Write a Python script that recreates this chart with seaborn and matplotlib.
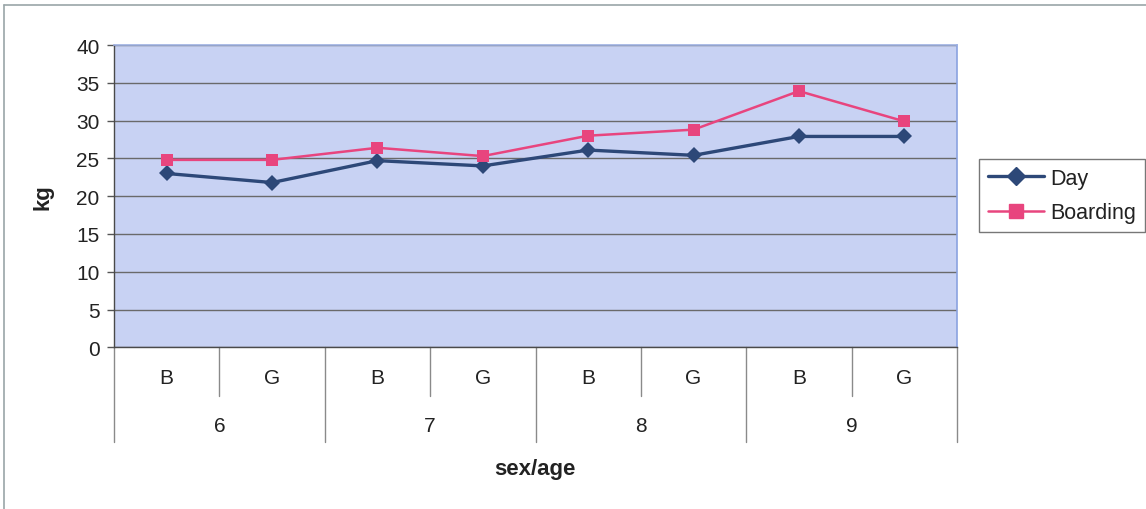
import matplotlib
matplotlib.use("Agg")
import matplotlib.pyplot as plt
import matplotlib.transforms as mtransforms
from matplotlib.lines import Line2D
import seaborn as sns
import pandas as pd

# Mean body weight (kg) by age and sex, day vs boarding pupils
ages = ["6", "7", "8", "9"]
sexes = ["B", "G"]
day_kg = [23.0, 21.8, 24.7, 24.0, 26.1, 25.4, 27.9, 27.9]
boarding_kg = [24.8, 24.8, 26.4, 25.3, 28.0, 28.8, 33.9, 29.9]
series_names = ["Day", "Boarding"]

groups = [f"{a}-{s}" for a in ages for s in sexes]
df = pd.DataFrame({
    "group": groups * 2,
    "kg": day_kg + boarding_kg,
    "school": [series_names[0]] * len(groups) + [series_names[1]] * len(groups),
})

sns.set_theme(style="white")
plt.rcParams["font.family"] = ["Liberation Sans", "DejaVu Sans"]

day_color = "#2D4878"
boarding_color = "#E8457E"
text_color = "#222222"

fig = plt.figure(figsize=(11.46, 5.10), dpi=100)
fig.patch.set_facecolor("white")
ax = fig.add_axes([114 / 1146, 161.7 / 510, (957 - 114) / 1146, (348.3 - 46) / 510])
ax.set_facecolor("#C8D2F3")

sns.lineplot(
    data=df, x="group", y="kg", hue="school", style="school",
    palette={"Day": day_color, "Boarding": boarding_color},
    markers={"Day": "D", "Boarding": "s"}, dashes=False, sort=False,
    markersize=9, markeredgewidth=0, linewidth=1.8, ax=ax, legend=False,
)
# heavier line and diamonds for the Day series
for ln in ax.lines:
    if ln.get_marker() == "D":
        ln.set_markersize(8.5)
        ln.set_linewidth(2.4)

ax.set_xlim(-0.5, len(groups) - 0.5)
ax.set_ylim(0, 40)
ax.set_yticks(range(0, 41, 5))
ax.yaxis.grid(True, color="#6a6a6a", linewidth=1.0)
ax.set_axisbelow(True)
ax.tick_params(axis="y", which="both", left=True, length=5, width=1, color="#555555",
               pad=5.5, labelsize=15, labelcolor=text_color)
ax.set_xticks([])
ax.set_xlabel("")
ax.set_ylabel("")

for side in ["left", "bottom"]:
    ax.spines[side].set_color("#4a4a4a")
    ax.spines[side].set_linewidth(1.0)
ax.spines["top"].set_color("#9DB0E2")
ax.spines["right"].set_color("#8AA2E0")
ax.spines["top"].set_linewidth(1.2)
ax.spines["right"].set_linewidth(1.2)

# two-level category axis below the plot
trans = mtransforms.blended_transform_factory(ax.transData, fig.transFigure)
def fy(px):
    return 1 - px / 510

sep_color = "#8a8a8a"
n_sex = len(sexes)
for i in range(len(groups) + 1):
    x = i - 0.5
    bottom = 443 if i % n_sex == 0 else 397
    ax.add_line(Line2D([x, x], [fy(348.3), fy(bottom)], transform=trans,
                       color=sep_color, linewidth=1.0, clip_on=False))

for i, g in enumerate(groups):
    ax.text(i, fy(379), g.split("-")[1], transform=trans, ha="center", va="center",
            fontsize=15, color=text_color)
for j, a in enumerate(ages):
    ax.text(j * n_sex + (n_sex - 1) / 2, fy(427), a, transform=trans, ha="center",
            va="center", fontsize=15, color=text_color)

fig.text(535 / 1146, fy(470), "sex/age", ha="center", va="center", fontsize=16,
         fontweight="bold", color=text_color)
fig.text(43 / 1146, fy(197), "kg", ha="center", va="center", rotation=90, fontsize=16,
         fontweight="bold", color=text_color)

# legend
handles = [
    Line2D([], [], color=day_color, marker="D", markersize=9, linewidth=2.4),
    Line2D([], [], color=boarding_color, marker="s", markersize=10, linewidth=1.8),
]
leg = fig.legend(handles, series_names, loc="center left",
                 bbox_to_anchor=(979 / 1146, fy(196.5)), fontsize=15.5,
                 frameon=True, fancybox=False, edgecolor="#555555",
                 handlelength=2.6, handletextpad=0.3, labelspacing=0.65,
                 borderpad=0.4, borderaxespad=0)
leg.get_frame().set_linewidth(1.0)
for t in leg.get_texts():
    t.set_color(text_color)

# outer chart frame (top and left edges)
fig.add_artist(Line2D([4 / 1146, 1], [fy(6), fy(6)], transform=fig.transFigure,
                      color="#9aa6a8", linewidth=1.2))
fig.add_artist(Line2D([4 / 1146, 4 / 1146], [fy(6), 0], transform=fig.transFigure,
                      color="#9aa6a8", linewidth=1.2))

fig.savefig("out.png", dpi=100, facecolor="white")
